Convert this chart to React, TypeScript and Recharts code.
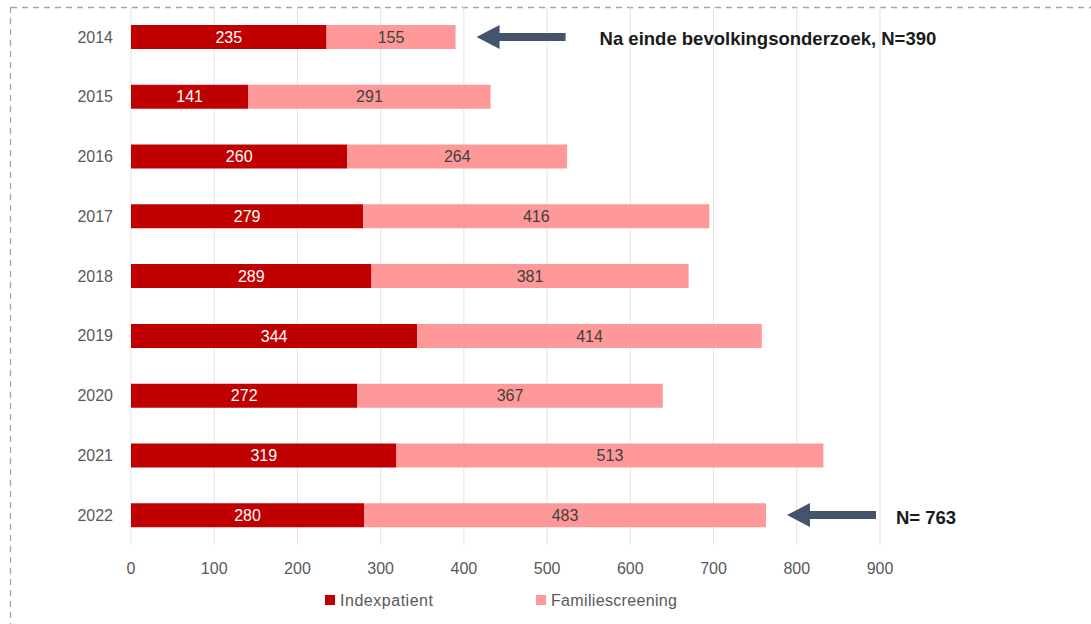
import React from 'react';
import { BarChart, Bar, XAxis, YAxis, CartesianGrid, LabelList, ReferenceDot } from 'recharts';

const years = ['2014', '2015', '2016', '2017', '2018', '2019', '2020', '2021', '2022'];
const indexpatient = [235, 141, 260, 279, 289, 344, 272, 319, 280];
const familiescreening = [155, 291, 264, 416, 381, 414, 367, 513, 483];
const xTicks = [0, 100, 200, 300, 400, 500, 600, 700, 800, 900];
const seriesNames = ['Indexpatient', 'Familiescreening'];
const seriesColors = ['#c00000', '#ff9999'];

const annotations = [
  { year: '2014', total: 390, text: 'Na einde bevolkingsonderzoek, N=390', textGap: 123 },
  { year: '2022', total: 763, text: 'N= 763', textGap: 109 },
];

const data = years.map((y, i) => ({ year: y, Indexpatient: indexpatient[i], Familiescreening: familiescreening[i] }));

const FONT = '"Liberation Sans", Arial, sans-serif';

const Arrow = (props: any) => {
  const { cx, cy, label, textGap } = props;
  const tip = cx + 21;
  const headLen = 23;
  const len = 89;
  const headH = 12;
  const shaftH = 4;
  const pts = [
    [tip, cy],
    [tip + headLen, cy - headH],
    [tip + headLen, cy - shaftH],
    [tip + len, cy - shaftH],
    [tip + len, cy + shaftH],
    [tip + headLen, cy + shaftH],
    [tip + headLen, cy + headH],
  ]
    .map((p) => p.join(','))
    .join(' ');
  return (
    <g>
      <polygon points={pts} fill="#44546a" />
      <text x={tip + textGap} y={cy + 2} dy="0.35em" fontFamily={FONT} fontWeight="bold" fontSize={18.5} fill="#1a1a1a">
        {label}
      </text>
    </g>
  );
};

export default function App() {
  return (
    <div style={{ position: 'absolute', left: 0, top: 0, width: 1091, height: 624, background: '#fff' }}>
      <svg width={1091} height={624} style={{ position: 'absolute', left: 0, top: 0 }}>
        <line x1={11} y1={7.5} x2={1091} y2={7.5} stroke="#a6a6a6" strokeWidth={1.3} strokeDasharray="6 5" />
        <line x1={10.5} y1={7} x2={10.5} y2={624} stroke="#a6a6a6" strokeWidth={1.3} strokeDasharray="6 5" />
        {/* legend */}
        <rect x={325} y={595} width={10} height={10} fill={seriesColors[0]} />
        <text x={340} y={600} dy="0.35em" fontFamily={FONT} fontSize={16} fill="#595959" textLength={93} lengthAdjust="spacing">
          {seriesNames[0]}
        </text>
        <rect x={536} y={595} width={10} height={10} fill={seriesColors[1]} />
        <text x={551} y={600} dy="0.35em" fontFamily={FONT} fontSize={16} fill="#595959" textLength={126} lengthAdjust="spacing">
          {seriesNames[1]}
        </text>
      </svg>
      <div style={{ position: 'absolute', left: 0, top: 0 }}>
        <BarChart
          width={1091}
          height={624}
          data={data}
          layout="vertical"
          margin={{ top: 7, right: 211, left: 0, bottom: 49 }}
          barSize={24}
        >
          <CartesianGrid horizontal={false} vertical stroke="#e3e3e3" />
          <XAxis
            type="number"
            domain={[0, 900]}
            ticks={xTicks}
            interval={0}
            axisLine={false}
            tickLine={false}
            tickSize={0}
            tickMargin={18}
            height={30}
            tick={{ fontFamily: FONT, fontSize: 16, fill: '#595959' }}
          />
          <YAxis
            type="category"
            dataKey="year"
            width={131}
            axisLine={false}
            tickLine={false}
            tickSize={0}
            tickMargin={18}
            tick={{ fontFamily: FONT, fontSize: 16, fill: '#595959' }}
          />
          <Bar dataKey={seriesNames[0]} stackId="a" fill={seriesColors[0]} isAnimationActive={false}>
            <LabelList dataKey={seriesNames[0]} position="center" fill="#ffffff" fontFamily={FONT} fontSize={16} />
          </Bar>
          <Bar dataKey={seriesNames[1]} stackId="a" fill={seriesColors[1]} isAnimationActive={false}>
            <LabelList dataKey={seriesNames[1]} position="center" fill="#404040" fontFamily={FONT} fontSize={16} />
          </Bar>
          {annotations.map((a) => (
            <ReferenceDot
              key={a.year}
              x={a.total}
              y={a.year}
              ifOverflow="visible"
              shape={(p: any) => <Arrow {...p} label={a.text} textGap={a.textGap} />}
            />
          ))}
        </BarChart>
      </div>
    </div>
  );
}
